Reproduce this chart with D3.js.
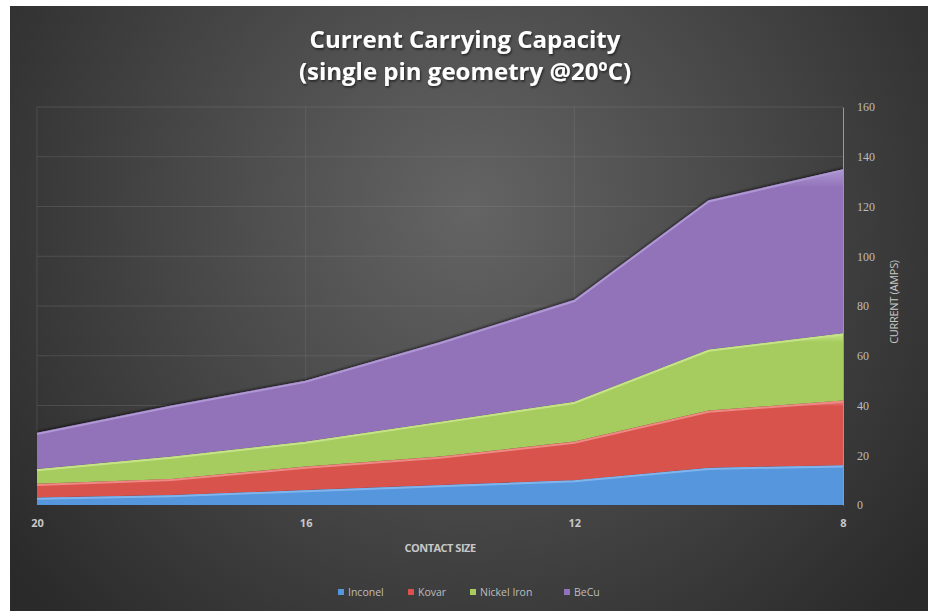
<!DOCTYPE html>
<html>
<head>
<meta charset="utf-8">
<script src="https://cdn.jsdelivr.net/npm/d3@7"></script>
<style>
  html, body { margin: 0; padding: 0; background: #ffffff; }
  svg { display: block; }
</style>
</head>
<body>
<svg id="chart" width="928" height="611"></svg>
<script>
// ---- data ----
const contactSizes = [20, 18, 16, 14, 12, 10, 8];
const xTickLabels = [20, 16, 12, 8];
const yTicks = [0, 20, 40, 60, 80, 100, 120, 140, 160];
const seriesNames = ["Inconel", "Kovar", "Nickel Iron", "BeCu"];
const inconel    = [3, 4, 6, 8, 10, 15, 16];
const kovar      = [5.5, 6.5, 9.5, 11.5, 15.5, 23, 26];
const nickelIron = [6, 9, 10, 14, 16, 24.5, 27];
const beCu       = [14.5, 20.5, 24.5, 32, 41, 60, 66];
const titleLines = ["Current Carrying Capacity", "(single pin geometry @20ºC)"];
const xTitle = "CONTACT SIZE";
const yTitle = "CURRENT (AMPS)";

const seriesColors = ["#5596dc", "#d9524e", "#a6cc5e", "#9273b9"];
const seriesLight  = ["#7fb4ec", "#ee8a84", "#c6e487", "#ae97d3"];

const rows = contactSizes.map((s, i) => ({
  size: s, "Inconel": inconel[i], "Kovar": kovar[i], "Nickel Iron": nickelIron[i], "BeCu": beCu[i]
}));

const W = 928, H = 611;
const svg = d3.select("#chart");
const defs = svg.append("defs");

// background radial gradient
const bg = defs.append("radialGradient").attr("id", "bg")
  .attr("gradientUnits", "userSpaceOnUse")
  .attr("cx", 470).attr("cy", 210).attr("r", 580);
bg.append("stop").attr("offset", "0%").attr("stop-color", "#646464");
bg.append("stop").attr("offset", "45%").attr("stop-color", "#4a4a4a");
bg.append("stop").attr("offset", "100%").attr("stop-color", "#2a2a2a");

svg.append("rect").attr("x", 10).attr("y", 6).attr("width", W - 10).attr("height", H - 6)
  .attr("fill", "url(#bg)");

// series gradients
seriesNames.forEach((n, i) => {
  const g = defs.append("linearGradient").attr("id", "g" + i)
    .attr("x1", 0).attr("y1", 0).attr("x2", 0).attr("y2", 1);
  g.append("stop").attr("offset", "0%").attr("stop-color", seriesLight[i]);
  g.append("stop").attr("offset", "6%").attr("stop-color", seriesColors[i]);
  g.append("stop").attr("offset", "100%").attr("stop-color", seriesColors[i]);
});
const shadow = defs.append("filter").attr("id", "sh").attr("x", "-5%").attr("y", "-5%").attr("width", "110%").attr("height", "115%");
shadow.append("feDropShadow").attr("dx", 0).attr("dy", -1.5).attr("stdDeviation", 1.2)
  .attr("flood-color", "#000").attr("flood-opacity", 0.55);
const tsh = defs.append("filter").attr("id", "tsh");
tsh.append("feDropShadow").attr("dx", 1).attr("dy", 1.5).attr("stdDeviation", 1)
  .attr("flood-color", "#000").attr("flood-opacity", 0.6);

// scales
const x = d3.scalePoint().domain(contactSizes).range([37, 843]);
const y = d3.scaleLinear().domain([0, 160]).range([505, 107]);

// gridlines
const grid = svg.append("g");
grid.selectAll("line.h").data(yTicks.slice(1)).join("line")
  .attr("x1", 37).attr("x2", 843)
  .attr("y1", d => y(d)).attr("y2", d => y(d))
  .attr("stroke", "#8a8a8a").attr("stroke-opacity", 0.28).attr("stroke-width", 1);
grid.selectAll("line.v").data(xTickLabels.slice(0, 3)).join("line")
  .attr("x1", d => x(d)).attr("x2", d => x(d))
  .attr("y1", y(160)).attr("y2", y(0))
  .attr("stroke", "#8a8a8a").attr("stroke-opacity", 0.25).attr("stroke-width", 1);

// stacked areas
const stack = d3.stack().keys(seriesNames);
const layers = stack(rows);
const area = d3.area()
  .x(d => x(d.data.size))
  .y0(d => y(d[0]))
  .y1(d => y(d[1]));
const topLine = d3.line().x(d => x(d.data.size)).y(d => y(d[1]));

const areasG = svg.append("g");
layers.forEach((layer, i) => {
  areasG.append("path").datum(layer)
    .attr("d", area)
    .attr("fill", "url(#g" + i + ")")
    .attr("filter", "url(#sh)");
});
layers.forEach((layer, i) => {
  areasG.append("path").datum(layer)
    .attr("d", topLine)
    .attr("fill", "none")
    .attr("stroke", seriesLight[i])
    .attr("stroke-width", 2)
    .attr("transform", "translate(0,1.2)");
});

// axes
const axisColor = "#c8c8c8";
const yAxis = d3.axisRight(y).tickValues(yTicks).tickSize(0).tickPadding(14);
const yG = svg.append("g").attr("transform", "translate(843,0)").call(yAxis);
yG.select(".domain").attr("stroke", "#9a9a9a").attr("stroke-width", 1);
yG.selectAll("text").attr("fill", "#bdbdbd")
  .style("font-family", "'Liberation Serif', serif").style("font-size", "12px");

const xAxis = d3.axisBottom(x).tickValues(xTickLabels).tickSize(0).tickPadding(14);
const xG = svg.append("g").attr("transform", "translate(0,505)").call(xAxis);
xG.select(".domain").remove();
xG.selectAll("text").attr("fill", axisColor)
  .style("font-family", "'Open Sans', sans-serif").style("font-size", "11px").style("font-weight", "bold");

// axis titles
svg.append("text").attr("x", 440).attr("y", 552).attr("text-anchor", "middle")
  .attr("fill", axisColor).style("font-family", "'Open Sans', sans-serif")
  .style("font-size", "11px").style("font-weight", "bold").style("letter-spacing", "-0.5px")
  .text(xTitle);
svg.append("text").attr("transform", "translate(898,302) rotate(-90)").attr("text-anchor", "middle")
  .attr("fill", axisColor).style("font-family", "'Open Sans', sans-serif")
  .style("font-size", "11px").style("letter-spacing", "-0.3px")
  .text(yTitle);

// title
const title = svg.append("text").attr("text-anchor", "middle").attr("fill", "#ffffff")
  .attr("filter", "url(#tsh)")
  .style("font-family", "'Open Sans', sans-serif").style("font-size", "24px").style("font-weight", "bold");
titleLines.forEach((t, i) => {
  title.append("tspan").attr("x", 465).attr("y", 48 + i * 32).text(t);
});

// legend
const legendItems = [
  { name: seriesNames[0], x: 341 },
  { name: seriesNames[1], x: 411 },
  { name: seriesNames[2], x: 473 },
  { name: seriesNames[3], x: 567 }
];
const lg = svg.append("g");
legendItems.forEach((it, i) => {
  lg.append("rect").attr("x", it.x - 3).attr("y", 589).attr("width", 6).attr("height", 6)
    .attr("fill", seriesColors[i]);
  lg.append("text").attr("x", it.x + 7).attr("y", 596)
    .attr("fill", "#bdbdbd").style("font-family", "'Open Sans', sans-serif")
    .style("font-size", "10.5px").text(it.name);
});
</script>
</body>
</html>
